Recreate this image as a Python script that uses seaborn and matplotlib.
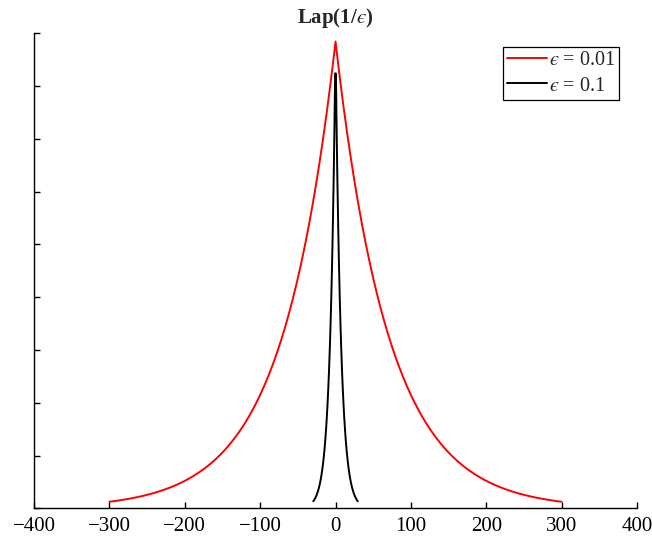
import numpy as np
import pandas as pd
import matplotlib
matplotlib.use("Agg")
import matplotlib.pyplot as plt
import seaborn as sns

# Privacy budgets and the Laplace noise curves drawn for each
epsilons = [0.01, 0.1]
labels = ["$\u03f5$ = 0.01", "$\u03f5$ = 0.1"]
colors = ["#ff0000", "#000000"]
x_starts = [-300.0, -29.5]   # first sample of each curve
x_stops = [300.0, 29.5]      # last sample of each curve
x_step = 1.0
y_tops = [0.0072, 0.072]     # upper limit of the axis each curve is drawn on
x_ticks = [-400, -300, -200, -100, 0, 100, 200, 300, 400]

sns.set_style("ticks")
plt.rcParams["font.family"] = ["Liberation Serif", "DejaVu Serif"]
plt.rcParams["mathtext.fontset"] = "stix"
plt.rcParams["axes.unicode_minus"] = True


def laplace_pdf(x, eps):
    # Laplace density whose standard deviation is 1/eps
    b = (1.0 / eps) / np.sqrt(2.0)
    return np.exp(-np.abs(x) / b) / (2.0 * b)


fig = plt.figure(figsize=(6.52, 5.44), dpi=100)
ax = fig.add_axes([0.0521, 0.0653, 0.925, 0.874])
ax2 = ax.twinx()
axes = [ax, ax2]

handles = []
for eps, lab, col, x0, x1, top, a in zip(epsilons, labels, colors,
                                          x_starts, x_stops, y_tops, axes):
    xs = np.arange(x0, x1 + x_step / 2, x_step)
    df = pd.DataFrame({"x": xs, "density": laplace_pdf(xs, eps)})
    sns.lineplot(data=df, x="x", y="density", ax=a, color=col,
                 linewidth=1.4, label=lab, legend=False)
    a.set_ylim(0, top)
    handles.append(a.get_lines()[-1])

ax.set_xlim(-400, 400)
ax.set_xticks(x_ticks)
ax.set_xticklabels([f"{t}".replace("-", "\u2212") for t in x_ticks],
                   fontsize=15)
ax.set_yticks(np.linspace(0, y_tops[0], 10))
ax.set_yticklabels([])
ax.set_xlabel("")
ax.set_ylabel("")
ax.tick_params(direction="in", length=4, width=1, colors="black", pad=6)

ax2.set_yticks([])
ax2.set_ylabel("")
for s in ["top", "right"]:
    ax.spines[s].set_visible(False)
for s in ax2.spines.values():
    s.set_visible(False)
for s in ["left", "bottom"]:
    ax.spines[s].set_color("black")
    ax.spines[s].set_linewidth(1.0)

ax.set_title("Lap(1/$\u03f5$)", fontsize=15, fontweight="bold", pad=7)

leg = ax2.legend(handles=handles, labels=labels, loc="upper right",
                 bbox_to_anchor=(0.97, 0.97), fontsize=14.5, frameon=True,
                 fancybox=False, edgecolor="black", framealpha=1,
                 handlelength=2.0, handletextpad=0.05, borderpad=0.2,
                 labelspacing=0.3, borderaxespad=0)
leg.get_frame().set_linewidth(0.9)

fig.savefig("out.png", dpi=100)
